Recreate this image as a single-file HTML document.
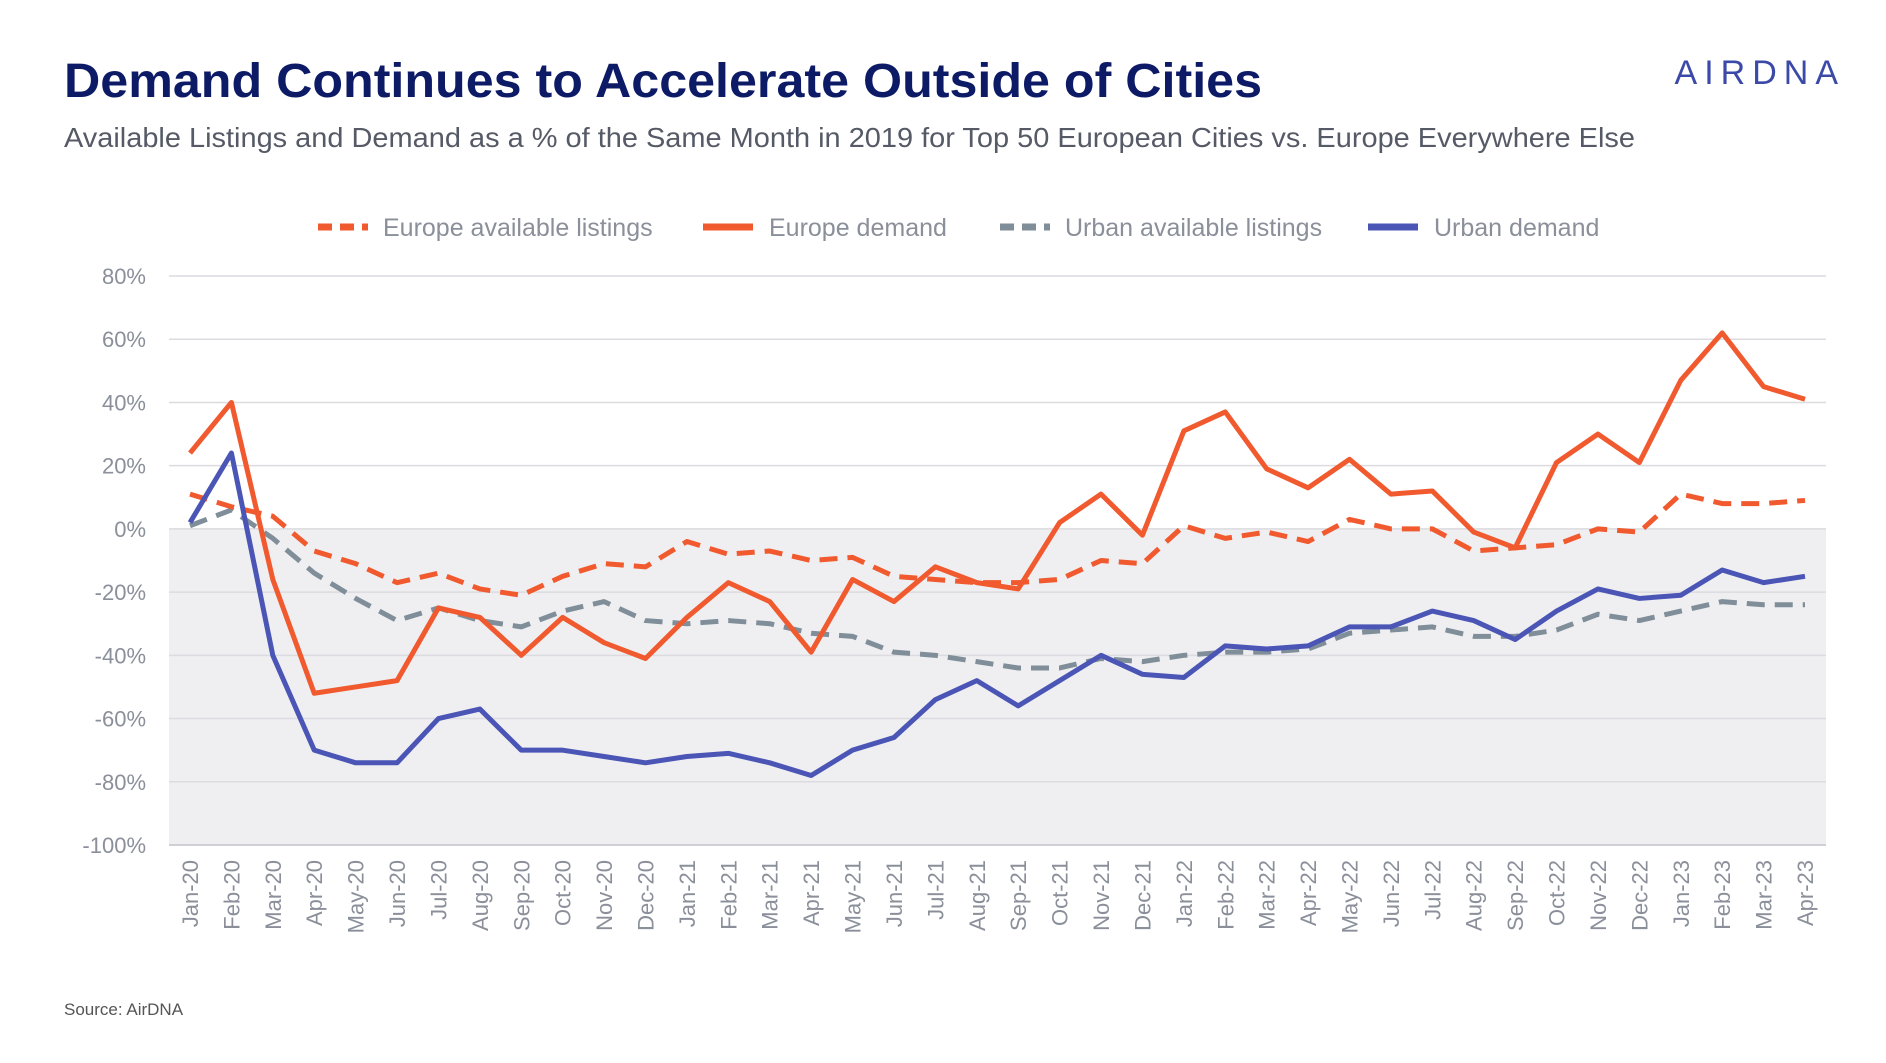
<!DOCTYPE html>
<html><head><meta charset="utf-8"><style>
body{margin:0;background:#fff;width:1886px;height:1058px;overflow:hidden;font-family:"Liberation Sans",sans-serif}
</style></head><body>
<svg id="c" width="1886" height="1058" xmlns="http://www.w3.org/2000/svg">
<text x="64" y="97" font-size="48" font-weight="bold" fill="#0d1a66" textLength="1198" lengthAdjust="spacingAndGlyphs">Demand Continues to Accelerate Outside of Cities</text>
<text x="64" y="147" font-size="28" fill="#555a66" textLength="1571" lengthAdjust="spacingAndGlyphs">Available Listings and Demand as a % of the Same Month in 2019 for Top 50 European Cities vs. Europe Everywhere Else</text>
<text x="1845" y="84" font-size="34" fill="#3b4aa8" text-anchor="end" letter-spacing="7">AIRDNA</text>
<text x="64" y="1015" font-size="17" fill="#555">Source: AirDNA</text>
<g id="plot"></g>
</svg>
<script>
const months=["Jan-20","Feb-20","Mar-20","Apr-20","May-20","Jun-20","Jul-20","Aug-20","Sep-20","Oct-20","Nov-20","Dec-20","Jan-21","Feb-21","Mar-21","Apr-21","May-21","Jun-21","Jul-21","Aug-21","Sep-21","Oct-21","Nov-21","Dec-21","Jan-22","Feb-22","Mar-22","Apr-22","May-22","Jun-22","Jul-22","Aug-22","Sep-22","Oct-22","Nov-22","Dec-22","Jan-23","Feb-23","Mar-23","Apr-23"];
const europeDemand=[24,40,-16,-52,-50,-48,-25,-28,-40,-28,-36,-41,-28,-17,-23,-39,-16,-23,-12,-17,-19,2,11,-2,31,37,19,13,22,11,12,-1,-6,21,30,21,47,62,45,41];
const europeListings=[11,7,4,-7,-11,-17,-14,-19,-21,-15,-11,-12,-4,-8,-7,-10,-9,-15,-16,-17,-17,-16,-10,-11,1,-3,-1,-4,3,0,0,-7,-6,-5,0,-1,11,8,8,9];
const urbanListings=[1,6,-3,-14,-22,-29,-25,-29,-31,-26,-23,-29,-30,-29,-30,-33,-34,-39,-40,-42,-44,-44,-41,-42,-40,-39,-39,-38,-33,-32,-31,-34,-34,-32,-27,-29,-26,-23,-24,-24];
const urbanDemand=[2,24,-40,-70,-74,-74,-60,-57,-70,-70,-72,-74,-72,-71,-74,-78,-70,-66,-54,-48,-56,-48,-40,-46,-47,-37,-38,-37,-31,-31,-26,-29,-35,-26,-19,-22,-21,-13,-17,-15];
const yTicks=[80,60,40,20,0,-20,-40,-60,-80,-100];
const NS="http://www.w3.org/2000/svg";
const L=169,R=1826,T=276,B=845,x0=190,x1=1805;
const y=v=>T+(80-v)/180*(B-T);
const x=i=>x0+i*(x1-x0)/(months.length-1);
const g=document.getElementById('plot');
function mk(t,a){const e=document.createElementNS(NS,t);for(const k in a)e.setAttribute(k,a[k]);g.appendChild(e);return e;}
const bg=mk('rect',{x:L,y:y(0),width:R-L,height:y(-100)-y(0),fill:'#efeff2'});


yTicks.forEach(v=>{
 const ln=mk('line',{x1:L,x2:R,y1:y(v),y2:y(v),stroke:v===-100?'#d0d0d4':'#dcdce0','stroke-width':v===-100?2:1.5});
 
 
 const t=mk('text',{x:146,y:y(v)+8,'font-size':22,fill:'#8a8f9a','text-anchor':'end'});
 t.textContent=v+'%';
 
 
});
months.forEach((m,i)=>{
 const t=mk('text',{transform:`translate(${x(i)+8},${860}) rotate(-90)`,'font-size':22,fill:'#8a8f9a','text-anchor':'end'});
 t.textContent=m;
 
 
});
function line(d,col,dash,name){
 const p=mk('polyline',{points:d.map((v,i)=>x(i)+','+y(v)).join(' '),fill:'none',stroke:col,'stroke-width':5,'stroke-linejoin':'round','stroke-dasharray':dash||'none'});
 
 
}
line(urbanListings,'#7f8e98','18 10','urban-listings-line');
line(europeListings,'#f05a2e','18 10','europe-listings-line');
line(europeDemand,'#f05a2e','','europe-demand-line');
line(urbanDemand,'#4a55b5','','urban-demand-line');
const leg=[["Europe available listings",'#f05a2e',true,318],["Europe demand",'#f05a2e',false,703],["Urban available listings",'#7f8e98',true,1000],["Urban demand",'#4a55b5',false,1368]];
leg.forEach(l=>{
 const ln=mk('line',{x1:l[3],x2:l[3]+50,y1:227,y2:227,stroke:l[1],'stroke-width':7,'stroke-dasharray':l[2]?'14 8':'none'});
 
 
 const t=mk('text',{x:l[3]+(l[2]?65:66),y:236,'font-size':25,fill:'#8a8f9a'});
 t.textContent=l[0];
 
 
});
</script>
</body></html>
